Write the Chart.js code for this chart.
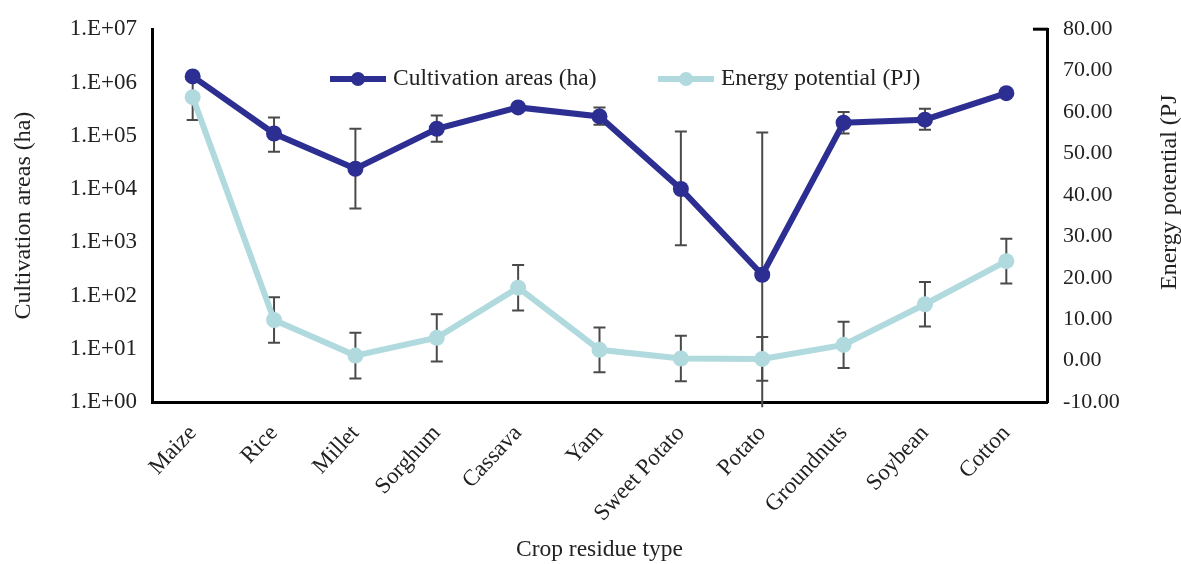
<!DOCTYPE html>
<html>
<head>
<meta charset="utf-8">
<script src="https://cdn.jsdelivr.net/npm/chart.js@4"></script>
<style>
  body { margin: 0; background: #fff; }
  #wrap { width: 1181px; height: 564px; }
</style>
</head>
<body>
<div id="wrap"><canvas id="chart"></canvas></div>
<script>
const crops = ['Maize', 'Rice', 'Millet', 'Sorghum', 'Cassava', 'Yam', 'Sweet Potato', 'Potato', 'Groundnuts', 'Soybean', 'Cotton'];
const areaHa = [1.3e6, 1.1e5, 2.4e4, 1.35e5, 3.4e5, 2.3e5, 1.0e4, 245, 1.75e5, 2.0e5, 6.3e5];
const areaLow = [null, 5.0e4, 4.3e3, 7.7e4, null, 1.6e5, 880, 0.8, 1.1e5, 1.3e5, null];
const areaHigh = [null, 2.2e5, 1.35e5, 2.4e5, null, 3.4e5, 1.2e5, 1.15e5, 2.8e5, 3.2e5, null];
const energyPJ = [63.6, 9.8, 1.2, 5.5, 17.6, 2.6, 0.5, 0.4, 3.8, 13.6, 24.0];
const energyErr = [5.5, 5.5, 5.5, 5.7, 5.5, 5.4, 5.5, 5.3, 5.6, 5.4, 5.4];
const areaTicks = [1, 10, 100, 1e3, 1e4, 1e5, 1e6, 1e7];

const DARK = 'rgb(44,47,145)';
const LIGHT = 'rgb(176,218,222)';
const FONT = 'Liberation Serif';

Chart.defaults.font.family = FONT;
Chart.defaults.font.size = 22;
Chart.defaults.color = '#222';

// error bars, drawn under the lines and markers
const errorBars = {
  id: 'errorBars',
  beforeDatasetsDraw(chart) {
    const ctx = chart.ctx;
    const x = chart.scales.x, yA = chart.scales.yArea, yE = chart.scales.yEnergy;
    ctx.save();
    ctx.strokeStyle = '#4a4a4a';
    ctx.lineWidth = 2;
    const bar = (px, top, bottom, capBottom) => {
      ctx.beginPath();
      ctx.moveTo(px, top); ctx.lineTo(px, bottom);
      ctx.moveTo(px - 6, top); ctx.lineTo(px + 6, top);
      if (capBottom) { ctx.moveTo(px - 6, bottom); ctx.lineTo(px + 6, bottom); }
      ctx.stroke();
    };
    crops.forEach((c, i) => {
      const px = x.getPixelForValue(i);
      if (areaLow[i] != null) {
        bar(px, yA.getPixelForValue(areaHigh[i]), yA.getPixelForValue(areaLow[i]), areaLow[i] >= 1);
      }
      bar(px, yE.getPixelForValue(energyPJ[i] + energyErr[i]), yE.getPixelForValue(energyPJ[i] - energyErr[i]), true);
    });
    ctx.restore();
  }
};

// legend inside the plot and the right axis title
const extras = {
  id: 'extras',
  afterDraw(chart) {
    const ctx = chart.ctx;
    const area = chart.chartArea;
    ctx.save();
    const items = [
      { label: 'Cultivation areas (ha)', color: DARK, x: 330 },
      { label: 'Energy potential (PJ)', color: LIGHT, x: 658 }
    ];
    const ly = 79;
    items.forEach(it => {
      ctx.strokeStyle = it.color;
      ctx.lineWidth = 6;
      ctx.beginPath();
      ctx.moveTo(it.x, ly); ctx.lineTo(it.x + 56, ly);
      ctx.stroke();
      ctx.fillStyle = it.color;
      ctx.beginPath();
      ctx.arc(it.x + 28, ly, 7, 0, Math.PI * 2);
      ctx.fill();
      ctx.fillStyle = '#222';
      ctx.font = '23.5px ' + FONT;
      ctx.textBaseline = 'middle';
      ctx.textAlign = 'left';
      ctx.fillText(it.label, it.x + 63, ly);
    });

    // little end ticks of the right axis bracket
    ctx.strokeStyle = '#000';
    ctx.lineWidth = 3;
    ctx.beginPath();
    ctx.moveTo(area.right - 14, area.top); ctx.lineTo(area.right + 1, area.top);
    ctx.stroke();

    ctx.translate(1170, 290);
    ctx.rotate(-Math.PI / 2);
    ctx.fillStyle = '#222';
    ctx.font = '24px ' + FONT;
    ctx.textBaseline = 'middle';
    ctx.textAlign = 'left';
    ctx.fillText('Energy potential (PJ', 0, 0);
    ctx.restore();
  }
};

new Chart(document.getElementById('chart'), {
  type: 'line',
  data: {
    labels: crops,
    datasets: [
      {
        label: 'Cultivation areas (ha)',
        data: areaHa,
        yAxisID: 'yArea',
        borderColor: DARK,
        backgroundColor: DARK,
        borderWidth: 6,
        pointRadius: 8,
        pointBorderWidth: 0,
        tension: 0
      },
      {
        label: 'Energy potential (PJ)',
        data: energyPJ,
        yAxisID: 'yEnergy',
        borderColor: LIGHT,
        backgroundColor: LIGHT,
        borderWidth: 6,
        pointRadius: 8,
        pointBorderWidth: 0,
        tension: 0
      }
    ]
  },
  options: {
    responsive: true,
    maintainAspectRatio: false,
    animation: false,
    layout: { padding: { top: 24, left: 0, right: 0, bottom: 0 } },
    plugins: {
      legend: { display: false },
      tooltip: { enabled: false }
    },
    scales: {
      x: {
        offset: true,
        grid: { display: false, drawTicks: false },
        border: { display: true, color: '#000', width: 3 },
        ticks: { autoSkip: false, minRotation: 47, maxRotation: 47, padding: 18, font: { size: 23 } },
        title: { display: true, text: 'Crop residue type', padding: { top: 0, bottom: 0 }, font: { size: 23.5 } },
        afterFit(s) { s.height = 162; }
      },
      yArea: {
        type: 'logarithmic',
        position: 'left',
        min: 1,
        max: 1e7,
        grid: { display: false, drawTicks: false },
        border: { display: true, color: '#000', width: 3 },
        afterBuildTicks(s) { s.ticks = areaTicks.map(v => ({ value: v })); },
        ticks: {
          padding: 15,
          font: { size: 23 },
          callback: v => '1.E+' + String(Math.round(Math.log10(v))).padStart(2, '0')
        },
        title: { display: true, text: 'Cultivation areas (ha)', padding: { top: 9, bottom: 0 }, font: { size: 24 } },
        afterFit(s) { s.width = 152; }
      },
      yEnergy: {
        position: 'right',
        min: -10,
        max: 80,
        grid: { display: false, drawTicks: false },
        border: { display: true, color: '#000', width: 3 },
        ticks: { stepSize: 10, padding: 16, font: { size: 22 }, callback: v => v.toFixed(2) },
        afterFit(s) { s.width = 134; }
      }
    }
  },
  plugins: [errorBars, extras]
});
</script>
</body>
</html>
